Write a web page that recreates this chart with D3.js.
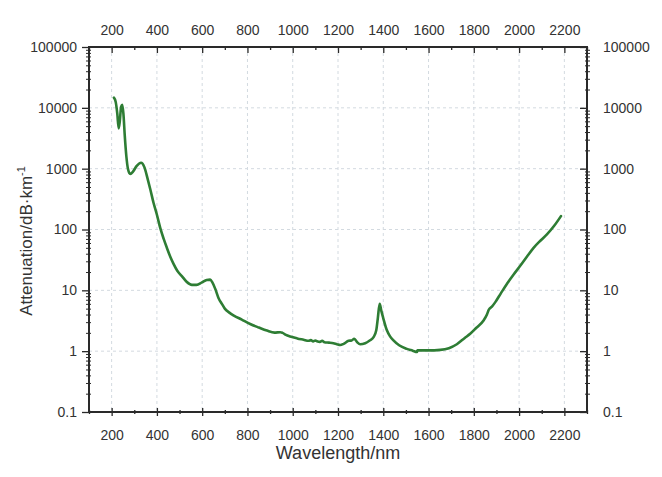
<!DOCTYPE html>
<html>
<head>
<meta charset="utf-8">
<script src="https://cdn.jsdelivr.net/npm/d3@7"></script>
<style>
html,body{margin:0;padding:0;background:#fff;}
svg{display:block;}
text{font-family:"Liberation Sans",Arial,Helvetica,sans-serif;fill:#333;}
</style>
</head>
<body>
<svg id="chart" width="662" height="477"></svg>
<script>
const wavelength = [210,218,225,231,236,242,247,252,258,265,272,282,295,310,330,345,359,371,385,400,415,430,444,460,474,490,511,530,555,575,599,620,635,645,658,672,687,700,720,740,775,812,850,886,920,945,955,970,989,1020,1048,1070,1080,1090,1100,1107,1120,1130,1140,1160,1180,1195,1210,1225,1247,1260,1272,1285,1298,1320,1340,1357,1369,1376,1384,1392,1399,1416,1430,1445,1470,1504,1530,1549,1551,1600,1652,1690,1725,1760,1784,1810,1843,1858,1866,1880,1895,1920,1946,1975,2005,2035,2064,2095,2123,2155,2185];
const attenuation = [14700,12500,8000,4600,6000,10500,11200,8000,3500,1600,1000,820,900,1100,1250,1050,680,455,275,175,105,70,50,35,27,21,17,14,12.3,12.3,13.5,14.8,15,13.5,10.5,7.5,6,5,4.3,3.85,3.3,2.8,2.45,2.18,2.02,2.05,2.0,1.85,1.74,1.62,1.54,1.48,1.52,1.45,1.5,1.46,1.42,1.48,1.40,1.38,1.35,1.30,1.26,1.32,1.48,1.5,1.6,1.4,1.3,1.35,1.5,1.7,2.2,3.5,6.0,4.5,3.6,2.2,1.75,1.5,1.25,1.09,1.02,0.97,1.03,1.03,1.05,1.12,1.3,1.65,1.93,2.4,3.2,4.0,4.8,5.4,6.4,9,12.7,18,25.3,36,50,66,83,115,166];
const xTicks = [200,400,600,800,1000,1200,1400,1600,1800,2000,2200];
const yTicks = [0.1,1,10,100,1000,10000,100000];
const yTickLabels = ["0.1","1","10","100","1000","10000","100000"];
const xTitle = "Wavelength/nm";
const yTitle = "Attenuation/dB·km";

const svg = d3.select("#chart");
const L = 89, R = 587, T = 47, B = 412;
const x = d3.scaleLinear().domain([100,2300]).range([L,R]);
const y = d3.scaleLog().domain([0.1,100000]).range([B,T]);
const axisColor = "#2a2a2a";

// grid
const g = svg.append("g");
g.selectAll("line.gx").data(xTicks).join("line")
  .attr("x1", d=>x(d)).attr("x2", d=>x(d)).attr("y1", T).attr("y2", B)
  .attr("stroke", "#d3dae0").attr("stroke-width", 1).attr("stroke-dasharray", "3,3");
g.selectAll("line.gy").data(yTicks.slice(1,-1)).join("line")
  .attr("y1", d=>y(d)).attr("y2", d=>y(d)).attr("x1", L).attr("x2", R)
  .attr("stroke", "#d3dae0").attr("stroke-width", 1).attr("stroke-dasharray", "3,3");

// curve
const pts = wavelength.map((w,i)=>[w, attenuation[i]]);
const line = d3.line().x(d=>x(d[0])).y(d=>y(d[1])).curve(d3.curveMonotoneX);
svg.append("path").datum(pts).attr("d", line)
  .attr("fill","none").attr("stroke","#2e7d34").attr("stroke-width",2.6)
  .attr("stroke-linejoin","round").attr("stroke-linecap","round");

// axes using d3 axis generators
const minorX = d3.range(100, 2301, 100).filter(v=>v%200!==0);
const minorY = [];
for (let e=-1; e<5; e++) for (let k=2;k<10;k++) minorY.push(k*Math.pow(10,e));

function styleAxis(sel){
  sel.select(".domain").remove();
  sel.selectAll("line").attr("stroke", axisColor).attr("stroke-width", 1.3);
  sel.selectAll("text").attr("fill","#333").style("font-size","14px")
    .style("font-family",'"Liberation Sans",Arial,sans-serif');
}

// bottom
svg.append("g").attr("transform",`translate(0,${B+4})`)
  .call(d3.axisBottom(x).tickValues(xTicks).tickSize(8).tickPadding(6).tickFormat(d3.format("d")))
  .call(styleAxis)
  .call(s=>s.selectAll(".tick line").attr("y1",-8).attr("y2",0));
svg.append("g").attr("transform",`translate(0,${B+2})`)
  .call(d3.axisBottom(x).tickValues(minorX).tickSize(4).tickFormat(""))
  .call(styleAxis)
  .call(s=>s.selectAll(".tick line").attr("y1",-4).attr("y2",0));
// top
svg.append("g").attr("transform",`translate(0,${T})`)
  .call(d3.axisTop(x).tickValues(xTicks).tickSize(-6).tickPadding(12).tickFormat(d3.format("d")))
  .call(styleAxis);
svg.append("g").attr("transform",`translate(0,${T})`)
  .call(d3.axisTop(x).tickValues(minorX).tickSize(-3).tickFormat(""))
  .call(styleAxis);
// left
svg.append("g").attr("transform",`translate(${L},0)`)
  .call(d3.axisLeft(y).tickValues(yTicks).tickSize(7).tickPadding(5).tickFormat((d,i)=>yTickLabels[i]))
  .call(styleAxis);
svg.append("g").attr("transform",`translate(${L+2},0)`)
  .call(d3.axisLeft(y).tickValues(minorY).tickSize(5).tickFormat(""))
  .call(styleAxis)
  .call(s=>s.selectAll(".tick line").attr("stroke-width",1));
// right
svg.append("g").attr("transform",`translate(${R},0)`)
  .call(d3.axisRight(y).tickValues(yTicks).tickSize(-7).tickPadding(16).tickFormat((d,i)=>yTickLabels[i]))
  .call(styleAxis);
svg.append("g").attr("transform",`translate(${R-2},0)`)
  .call(d3.axisRight(y).tickValues(minorY).tickSize(5).tickFormat(""))
  .call(styleAxis)
  .call(s=>s.selectAll(".tick line").attr("stroke-width",1));

// frame
svg.append("rect").attr("x",L).attr("y",T).attr("width",R-L).attr("height",B-T)
  .attr("fill","none").attr("stroke",axisColor).attr("stroke-width",2);

// titles
svg.append("text").attr("x",(L+R)/2).attr("y",459).attr("text-anchor","middle")
  .style("font-size","18px").text(xTitle);
const yt = svg.append("text").attr("transform","translate(32,241) rotate(-90)")
  .attr("text-anchor","middle").style("font-size","17px");
yt.append("tspan").text(yTitle);
yt.append("tspan").attr("dy","-7").style("font-size","11px").text("-1");
</script>
</body>
</html>
